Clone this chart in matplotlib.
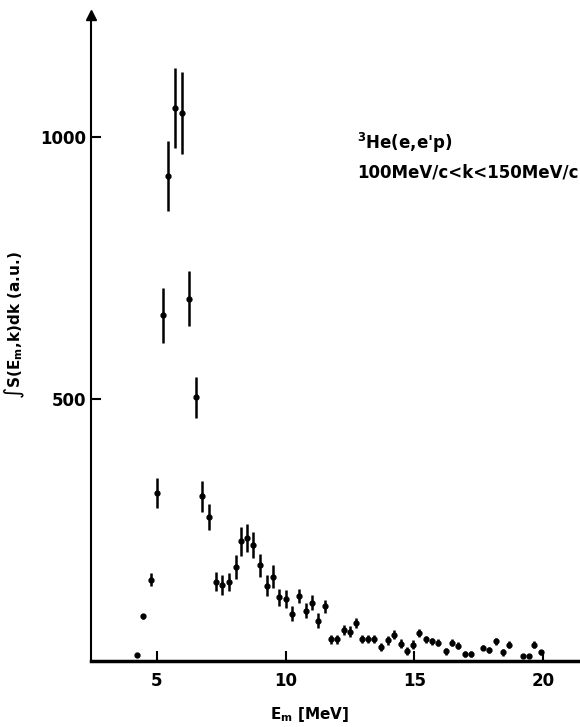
import matplotlib.pyplot as plt

# missing energy E_m [MeV] and integrated spectral function (a.u.)
e_m = [4.23, 4.47, 4.76, 4.99, 5.22, 5.44, 5.70, 5.96, 6.24, 6.50,
       6.76, 7.01, 7.28, 7.54, 7.80, 8.06, 8.26, 8.48, 8.74, 9.00,
       9.26, 9.49, 9.75, 10.00, 10.26, 10.51, 10.77, 11.03, 11.26, 11.52,
       11.75, 12.00, 12.26, 12.50, 12.73, 12.97, 13.20, 13.44, 13.70, 13.96,
       14.20, 14.46, 14.72, 14.95, 15.19, 15.43, 15.67, 15.92, 16.21, 16.44,
       16.70, 16.96, 17.19, 17.67, 17.90, 18.17, 18.43, 18.69, 19.20, 19.45,
       19.66, 19.91]
s_val = [11, 85, 155, 321, 660, 926, 1056, 1046, 692, 503,
         314, 274, 151, 144, 150, 180, 228, 234, 221, 183,
         143, 161, 121, 118, 90, 124, 96, 111, 77, 104,
         41, 41, 59, 56, 72, 42, 42, 42, 27, 39,
         50, 33, 19, 31, 53, 41, 37, 35, 18, 35,
         29, 13, 13, 25, 21, 37, 16, 31, 10, 10,
         31, 16]
s_err = [2, 5, 13, 29, 52, 67, 76, 78, 52, 39,
         29, 25, 18, 19, 17, 23, 28, 27, 25, 22,
         20, 22, 17, 17, 14, 14, 14, 14, 14, 13,
         9, 9, 10, 10, 10, 8, 8, 8, 8, 8,
         8, 8, 8, 8, 8, 6, 6, 6, 6, 7,
         7, 5, 5, 5, 6, 7, 6, 7, 4, 4,
         7, 4]

x_ticks = [5, 10, 15, 20]
y_ticks = [500, 1000]

fig = plt.figure(figsize=(5.8, 7.27), dpi=100)
ax = fig.add_axes([0.157, 0.091, 0.843, 0.888])

ax.errorbar(e_m, s_val, yerr=s_err, fmt='o', color='black', ms=3.5,
            elinewidth=1.8, capsize=0)

ax.set_xlim(2.44, 21.43)
ax.set_ylim(0, 1233)

ax.spines['top'].set_visible(False)
ax.spines['right'].set_visible(False)
ax.spines['left'].set_linewidth(1.5)
ax.spines['bottom'].set_linewidth(2.5)

# arrow on top of the y axis
ax.plot([0], [1], marker='^', color='black', ms=7, transform=ax.transAxes,
        clip_on=False)

ax.set_xticks(x_ticks)
ax.set_yticks(y_ticks)
ax.tick_params(direction='in', length=7, width=1.5, labelsize=12)
ax.tick_params(axis='x', pad=8)
for lab in ax.get_xticklabels() + ax.get_yticklabels():
    lab.set_fontweight('bold')

ax.set_xlabel('E$_\\mathbf{m}$ [MeV]', fontsize=11, fontweight='bold')
ax.xaxis.set_label_coords(0.448, -0.068)
ax.set_ylabel('$\\int$S(E$_\\mathbf{m}$,k)dk (a.u.)', fontsize=11,
              fontweight='bold')
ax.yaxis.set_label_coords(-0.13, 0.52)

ax.text(0.544, 0.802, '$^\\mathbf{3}$He(e,e\'p)', transform=ax.transAxes,
        fontsize=12, fontweight='bold', va='center')
ax.text(0.544, 0.757, '100MeV/c<k<150MeV/c', transform=ax.transAxes,
        fontsize=12, fontweight='bold', va='center')

plt.savefig('out.png', dpi=100)
